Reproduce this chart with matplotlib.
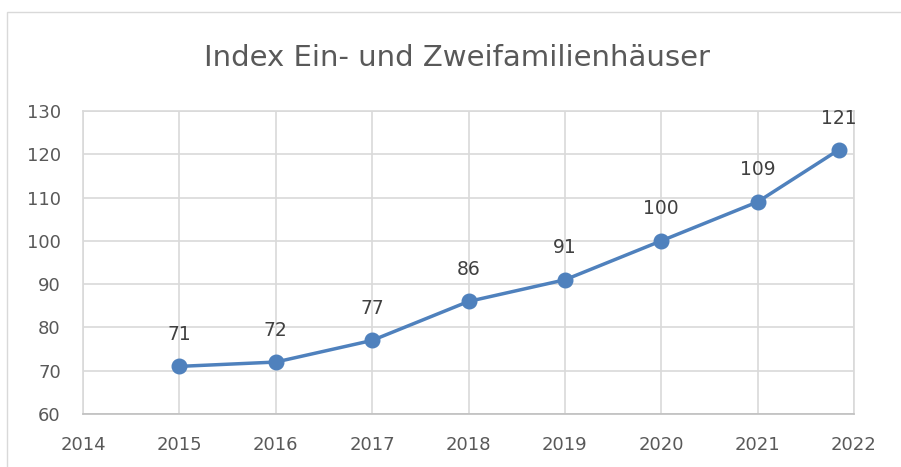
import matplotlib.pyplot as plt
from matplotlib.patches import Rectangle

# x positions: the last value sits a bit before 2022 in the source chart
years = [2015, 2016, 2017, 2018, 2019, 2020, 2021, 2021.84]
index_values = [71, 72, 77, 86, 91, 100, 109, 121]
x_ticks = [2014, 2015, 2016, 2017, 2018, 2019, 2020, 2021, 2022]
y_ticks = [60, 70, 80, 90, 100, 110, 120, 130]
title = "Index Ein- und Zweifamilienhäuser"

line_color = "#4F81BD"
grid_color = "#D9D9D9"
text_color = "#595959"

fig = plt.figure(figsize=(9.01, 4.67), dpi=100)
ax = fig.add_axes([83 / 901, 53 / 467, (854 - 83) / 901, (414 - 111) / 467])

# outer chart frame (cut off at right and bottom like the screenshot)
fig.patches.append(Rectangle((7 / 901, -0.1), 1.2, 1 - 12 / 467 + 0.1,
                             transform=fig.transFigure, fill=False,
                             edgecolor=grid_color, linewidth=1.0))

ax.plot(years, index_values, color=line_color, linewidth=2.5,
        marker="o", markersize=10.5, zorder=3)
for x, y in zip(years, index_values):
    ax.annotate(str(y), (x, y), xytext=(0, 23), textcoords="offset points",
                ha="center", va="center", fontsize=13.5, color="#404040")

ax.set_xlim(x_ticks[0], x_ticks[-1])
ax.set_ylim(y_ticks[0], y_ticks[-1])
ax.set_xticks(x_ticks)
ax.set_yticks(y_ticks)
ax.grid(True, color=grid_color, linewidth=1.2)
ax.set_axisbelow(True)
for spine in ax.spines.values():
    spine.set_color(grid_color)
    spine.set_linewidth(1.2)
ax.spines["bottom"].set_color("#BFBFBF")
ax.tick_params(length=0, labelsize=13, labelcolor=text_color)
ax.tick_params(axis="y", pad=16)
ax.tick_params(axis="x", pad=16)

fig.text(457 / 901, 1 - 58 / 467, title, ha="center", va="center",
         fontsize=21, color=text_color)

fig.savefig("out.png", dpi=100)
